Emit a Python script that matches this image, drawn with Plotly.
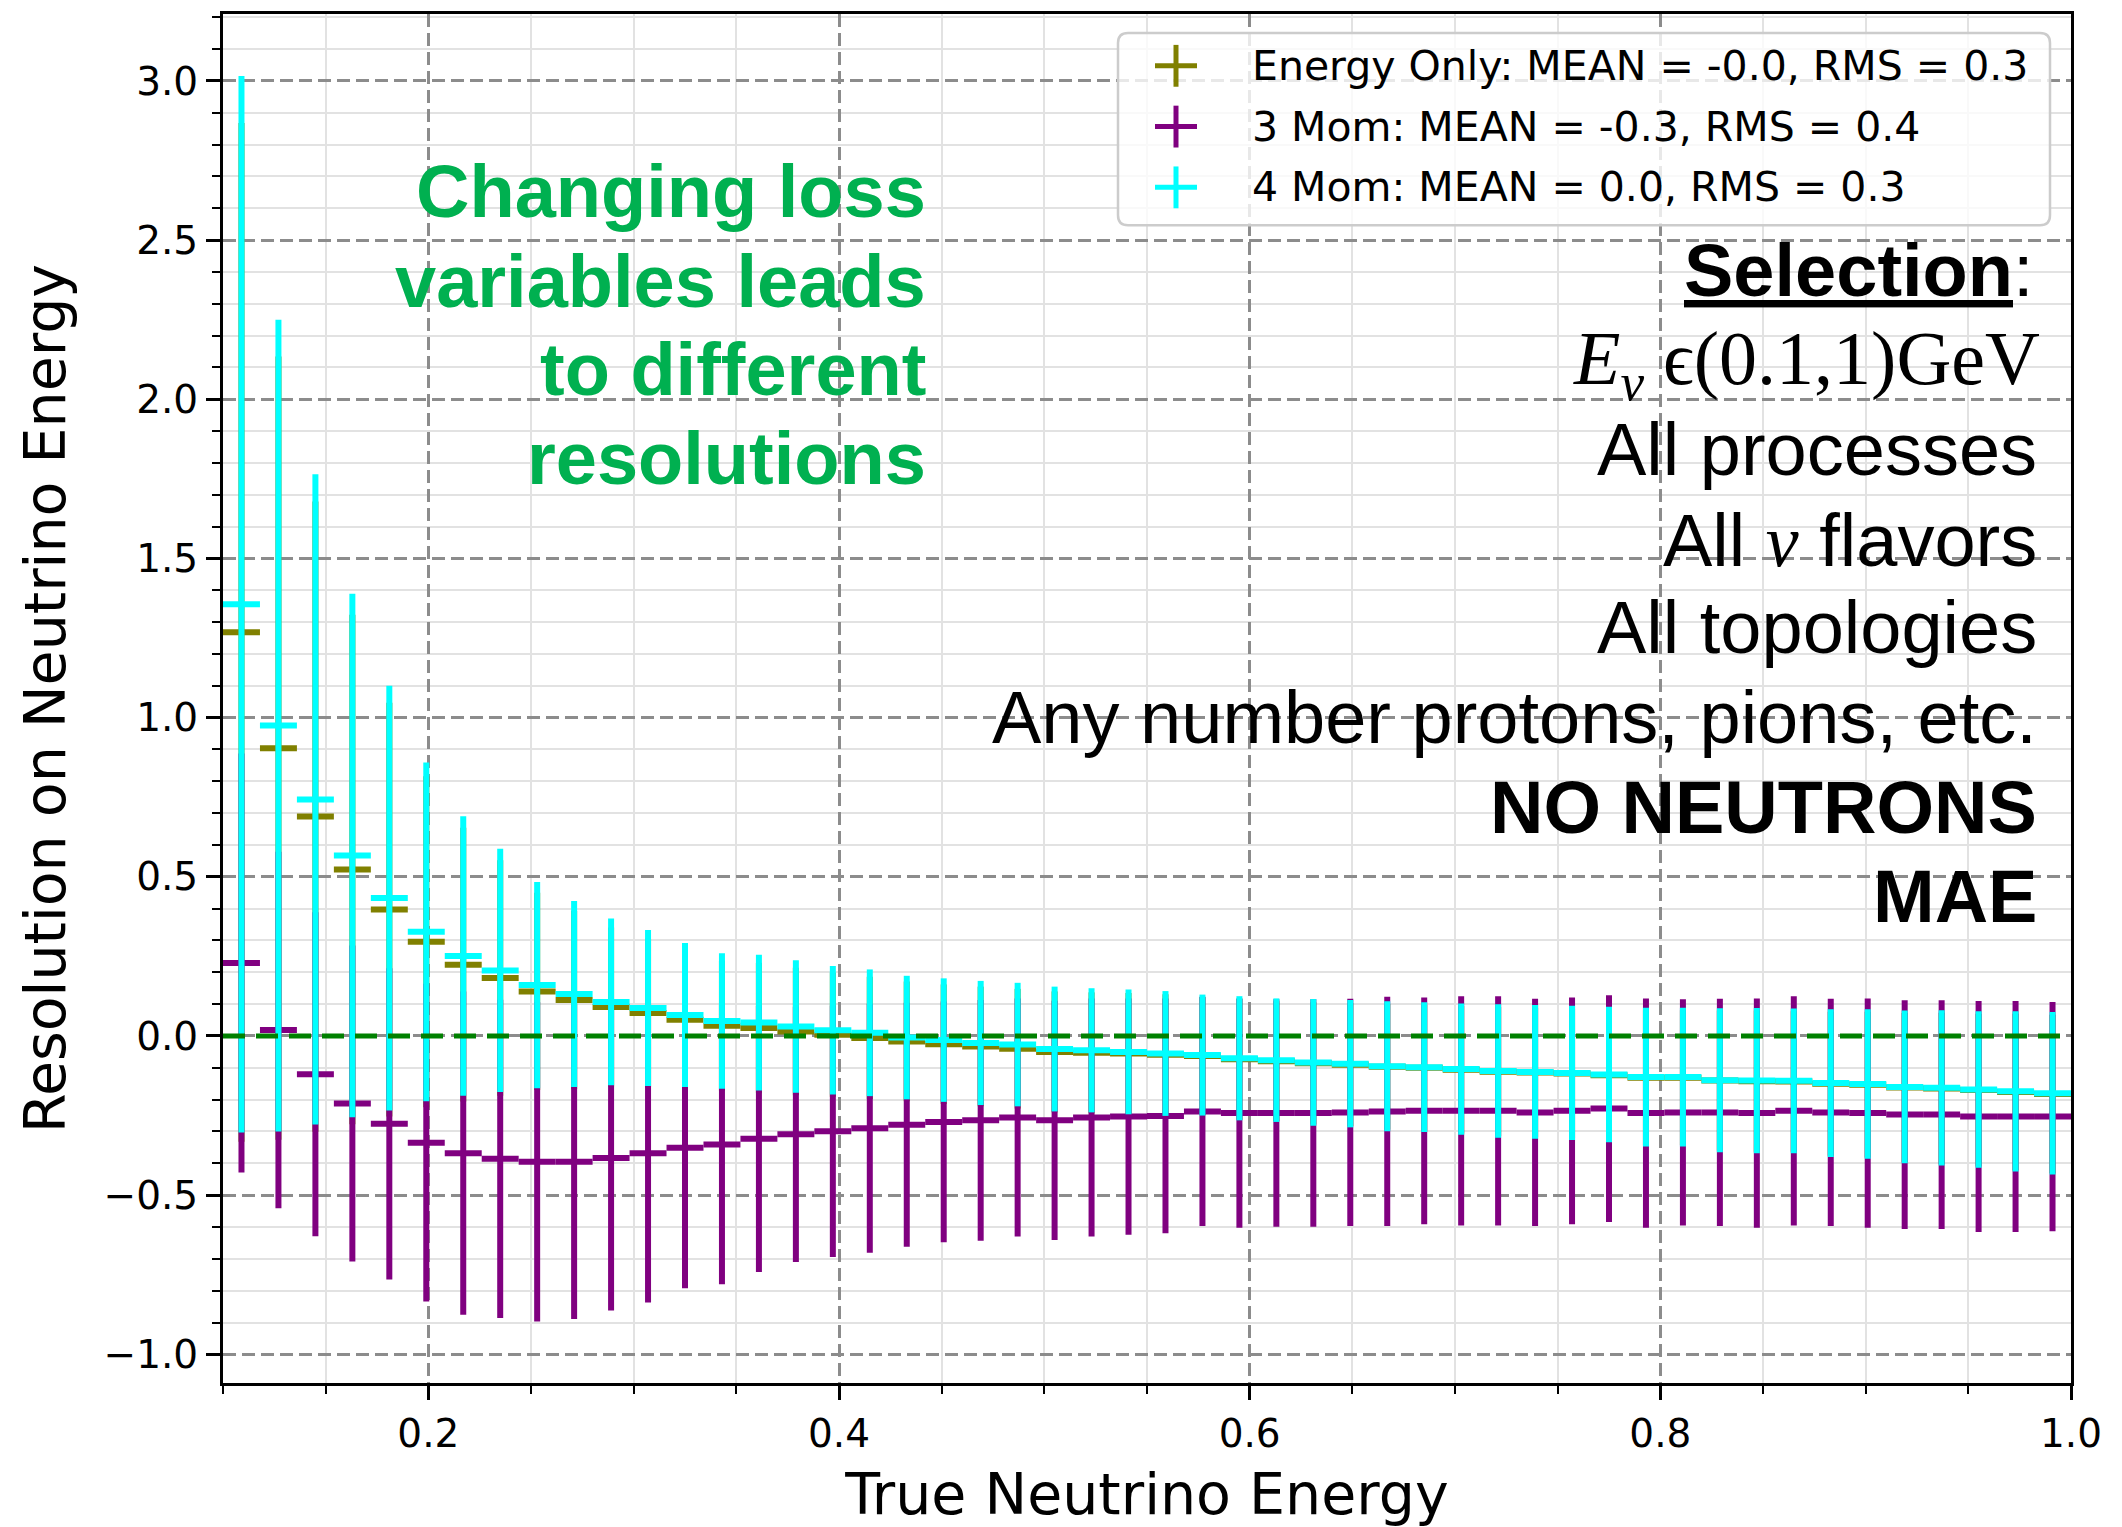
import plotly.graph_objects as go

# ---------------- data ----------------
bin_centers = [0.109, 0.127, 0.145, 0.163, 0.181, 0.199, 0.217, 0.235, 0.253, 0.271,
               0.289, 0.307, 0.325, 0.343, 0.361, 0.379, 0.397, 0.415, 0.433, 0.451,
               0.469, 0.487, 0.505, 0.523, 0.541, 0.559, 0.577, 0.595, 0.613, 0.631,
               0.649, 0.667, 0.685, 0.703, 0.721, 0.739, 0.757, 0.775, 0.793, 0.811,
               0.829, 0.847, 0.865, 0.883, 0.901, 0.919, 0.937, 0.955, 0.973, 0.991]
half_bin = 0.009

# Energy Only
mean_energy = [1.268, 0.904, 0.689, 0.523, 0.397, 0.296, 0.224, 0.182, 0.140, 0.113,
               0.091, 0.072, 0.051, 0.032, 0.025, 0.014, 0.004, -0.006, -0.017, -0.026,
               -0.033, -0.040, -0.050, -0.053, -0.055, -0.059, -0.063, -0.073, -0.079, -0.086,
               -0.090, -0.097, -0.100, -0.106, -0.112, -0.115, -0.118, -0.123, -0.131, -0.131,
               -0.140, -0.142, -0.143, -0.150, -0.153, -0.162, -0.165, -0.170, -0.176, -0.182]
rms_energy = [1.600, 1.230, 0.990, 0.800, 0.650, 0.520, 0.430, 0.370, 0.310, 0.280,
              0.250, 0.235, 0.215, 0.205, 0.205, 0.200, 0.195, 0.192, 0.188, 0.188,
              0.188, 0.188, 0.190, 0.190, 0.190, 0.190, 0.185, 0.190, 0.188, 0.192,
              0.193, 0.197, 0.197, 0.200, 0.203, 0.203, 0.205, 0.207, 0.212, 0.212,
              0.220, 0.222, 0.221, 0.226, 0.229, 0.234, 0.238, 0.240, 0.246, 0.249]

# 3 Mom
mean_3mom = [0.229, 0.019, -0.120, -0.212, -0.276, -0.335, -0.368, -0.386, -0.395, -0.395,
             -0.383, -0.368, -0.351, -0.341, -0.323, -0.309, -0.299, -0.290, -0.279, -0.270,
             -0.265, -0.256, -0.265, -0.256, -0.253, -0.251, -0.237, -0.242, -0.242, -0.242,
             -0.240, -0.237, -0.235, -0.235, -0.235, -0.240, -0.235, -0.228, -0.242, -0.240,
             -0.240, -0.242, -0.235, -0.240, -0.242, -0.247, -0.247, -0.253, -0.253, -0.253]
rms_3mom = [0.658, 0.560, 0.509, 0.496, 0.489, 0.499, 0.508, 0.500, 0.502, 0.494,
            0.479, 0.469, 0.441, 0.439, 0.418, 0.401, 0.395, 0.391, 0.383, 0.378,
            0.378, 0.374, 0.376, 0.374, 0.371, 0.369, 0.360, 0.360, 0.357, 0.357,
            0.357, 0.360, 0.356, 0.360, 0.360, 0.357, 0.356, 0.356, 0.360, 0.355,
            0.357, 0.360, 0.360, 0.357, 0.360, 0.359, 0.359, 0.363, 0.363, 0.360]

# 4 Mom
mean_4mom = [1.356, 0.975, 0.743, 0.567, 0.433, 0.327, 0.251, 0.206, 0.160, 0.132,
             0.107, 0.088, 0.066, 0.047, 0.042, 0.030, 0.018, 0.010, -0.005, -0.013,
             -0.022, -0.027, -0.041, -0.045, -0.050, -0.055, -0.060, -0.070, -0.076, -0.083,
             -0.087, -0.095, -0.098, -0.104, -0.110, -0.113, -0.116, -0.121, -0.129, -0.129,
             -0.139, -0.140, -0.141, -0.148, -0.151, -0.160, -0.163, -0.168, -0.174, -0.180]
rms_4mom = [1.659, 1.275, 1.021, 0.822, 0.667, 0.532, 0.439, 0.382, 0.324, 0.292,
            0.262, 0.245, 0.226, 0.213, 0.213, 0.208, 0.202, 0.199, 0.194, 0.194,
            0.195, 0.194, 0.196, 0.195, 0.196, 0.196, 0.190, 0.195, 0.194, 0.199,
            0.200, 0.204, 0.204, 0.206, 0.210, 0.210, 0.211, 0.213, 0.218, 0.218,
            0.226, 0.228, 0.227, 0.232, 0.235, 0.240, 0.244, 0.246, 0.252, 0.255]

series_names = ["Energy Only", "3 Mom", "4 Mom"]
legend_labels = ["Energy Only: MEAN = -0.0, RMS = 0.3",
                 "3 Mom: MEAN = -0.3, RMS = 0.4",
                 "4 Mom: MEAN = 0.0, RMS = 0.3"]
series_colors = ["#808000", "#800080", "#00FFFF"]

x_range = [0.1, 1.0]
y_range = [-1.09, 3.21]

green_lines = ["Changing loss", "variables leads", "to different", "resolutions"]
selection_lines = [
    "<b><u>Selection</u></b>:",
    "<i>E</i><sub><i>ν</i></sub> ϵ(0.1,1)GeV",
    "All processes",
    "All <span style=\"font-family:'Liberation Serif', serif\"><i>ν</i></span> flavors",
    "All topologies",
    "Any number protons, pions, etc.",
    "<b>NO NEUTRONS</b>",
    "<b>MAE</b>",
]
selection_fonts = ["Liberation Sans, Arial", "Liberation Serif, DejaVu Serif, serif",
                   "Liberation Sans, Arial", "Liberation Sans, Arial", "Liberation Sans, Arial",
                   "Liberation Sans, Arial", "Liberation Sans, Arial", "Liberation Sans, Arial"]
selection_sizes = [74, 76, 74, 74, 74, 74, 74, 74]

# ---------------- figure geometry (pixels) ----------------
W, H = 2122, 1527
L, R, T, B = 223, 51, 11, 142
PW = W - L - R
PH = H - T - B


def px(xpix):
    return (xpix - L) / PW


def py(ypix):
    return (H - B - ypix) / PH


fig = go.Figure()

means = [mean_energy, mean_3mom, mean_4mom]
rmss = [rms_energy, rms_3mom, rms_4mom]
for name, m, r, c in zip(series_names, means, rmss, series_colors):
    fig.add_trace(go.Scatter(
        x=bin_centers, y=m, name=name, mode="markers",
        marker=dict(size=1, color="rgba(0,0,0,0)"),
        error_y=dict(type="data", array=r, visible=True, color=c, thickness=6, width=0),
        error_x=dict(type="constant", value=half_bin, visible=True, color=c, thickness=6, width=0),
        showlegend=False, hoverinfo="skip",
    ))

shapes = []
# zero reference line
shapes.append(dict(type="line", xref="paper", x0=0, x1=1, yref="y", y0=0, y1=0,
                   line=dict(color="#008000", width=5, dash="22px,11px"), layer="above"))

# legend box (rounded)
x0, x1, y0, y1, rr = 1118, 2050, 30, 223, 10
path = (f"M {px(x0 + rr)},{py(y0)} L {px(x1 - rr)},{py(y0)} Q {px(x1)},{py(y0)} {px(x1)},{py(y0 + rr)} "
        f"L {px(x1)},{py(y1 - rr)} Q {px(x1)},{py(y1)} {px(x1 - rr)},{py(y1)} "
        f"L {px(x0 + rr)},{py(y1)} Q {px(x0)},{py(y1)} {px(x0)},{py(y1 - rr)} "
        f"L {px(x0)},{py(y0 + rr)} Q {px(x0)},{py(y0)} {px(x0 + rr)},{py(y0)} Z")
shapes.append(dict(type="path", xref="paper", yref="paper", path=path,
                   fillcolor="rgba(255,255,255,0.8)", line=dict(color="#cccccc", width=2.5),
                   layer="above"))

annotations = []
row_y = [63, 124, 185]
for lab, c, ry in zip(legend_labels, series_colors, row_y):
    cx = 1176
    shapes.append(dict(type="line", xref="paper", yref="paper", x0=px(cx - 21), x1=px(cx + 21),
                       y0=py(ry), y1=py(ry), line=dict(color=c, width=5), layer="above"))
    shapes.append(dict(type="line", xref="paper", yref="paper", x0=px(cx), x1=px(cx),
                       y0=py(ry - 21), y1=py(ry + 21), line=dict(color=c, width=5), layer="above"))
    annotations.append(dict(text=lab, xref="paper", yref="paper", x=px(1250), y=py(ry),
                            xanchor="left", yanchor="middle", showarrow=False,
                            font=dict(family="DejaVu Sans", size=41, color="black")))

green_y = [189, 279, 368, 457]
for t, gy in zip(green_lines, green_y):
    annotations.append(dict(text="<b>" + t + "</b>", xref="paper", yref="paper", x=px(928), y=py(gy),
                            xanchor="right", yanchor="middle", showarrow=False,
                            font=dict(family="Liberation Sans, Arial", size=74, color="#00B050")))

sel_y = [268, 362, 448, 539, 627, 717, 807, 897]
sel_x = [2036, 2042, 2039, 2039, 2039, 2039, 2039, 2039]
for t, sy, sx, sf, ss in zip(selection_lines, sel_y, sel_x, selection_fonts, selection_sizes):
    annotations.append(dict(text=t, xref="paper", yref="paper", x=px(sx), y=py(sy),
                            xanchor="right", yanchor="middle", showarrow=False,
                            font=dict(family=sf, size=ss, color="black")))

axis_common = dict(
    showline=True, linewidth=3, linecolor="black", mirror=True,
    ticks="outside", ticklen=14, tickwidth=2.5, tickcolor="black",
    showgrid=True, gridcolor="#8c8c8c", gridwidth=2.5, griddash="13px,6px",
    zeroline=False, tickformat=".1f",
    tickfont=dict(family="DejaVu Sans", size=39, color="black"),
)
minor_common = dict(ticks="outside", ticklen=8, tickwidth=2, tickcolor="black",
                    showgrid=True, gridcolor="#e2e2e2", gridwidth=2, griddash="solid")

fig.update_layout(
    width=W, height=H,
    margin=dict(l=L, r=R, t=T, b=B),
    paper_bgcolor="white", plot_bgcolor="white",
    showlegend=False,
    xaxis=dict(range=x_range, tick0=0, dtick=0.2,
               minor=dict(dtick=0.05, **minor_common),
               title=dict(text="True Neutrino Energy", standoff=20,
                          font=dict(family="DejaVu Sans", size=57, color="black")),
               **axis_common),
    yaxis=dict(range=y_range, tick0=0, dtick=0.5,
               minor=dict(dtick=0.1, **minor_common),
               title=dict(text="Resolution on Neutrino Energy", standoff=20,
                          font=dict(family="DejaVu Sans", size=57, color="black")),
               **axis_common),
    shapes=shapes,
    annotations=annotations,
)

fig.write_html("out.html")
